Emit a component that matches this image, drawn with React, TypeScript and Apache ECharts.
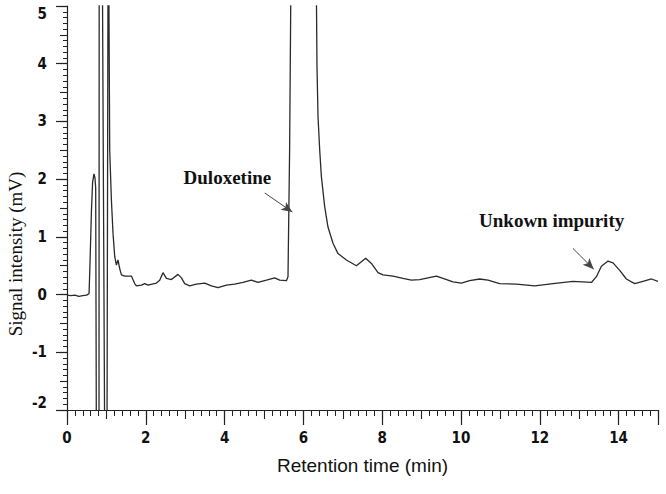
import React, { useEffect, useRef } from "react";
import * as echarts from "echarts";

// Retention time (min) and signal (mV)
const retentionTime = [
  0.0, 0.1, 0.2, 0.3, 0.4, 0.5, 0.56, 0.58, 0.62, 0.65, 0.685, 0.71, 0.728,
  0.746, 0.812, 0.817, 0.898, 0.957, 1.015, 1.041, 1.06, 1.084, 1.127, 1.168,
  1.211, 1.254, 1.294, 1.338, 1.381, 1.464, 1.635, 1.718, 1.761, 1.888, 1.972,
  2.056, 2.269, 2.353, 2.437, 2.523, 2.65, 2.817, 2.904, 2.987, 3.114, 3.284,
  3.495, 3.665, 3.832, 4.046, 4.256, 4.467, 4.68, 4.848, 5.061, 5.272, 5.398,
  5.569, 5.609, 5.65, 5.685, 6.0, 6.325, 6.345, 6.371, 6.414, 6.457, 6.541,
  6.624, 6.751, 6.878, 7.091, 7.345, 7.581, 7.726, 7.893, 8.02, 8.274, 8.528,
  8.741, 8.952, 9.162, 9.376, 9.543, 9.797, 10.01, 10.22, 10.475, 10.685,
  10.98, 11.406, 11.87, 12.335, 12.843, 13.31, 13.437, 13.563, 13.731, 13.858,
  14.028, 14.198, 14.409, 14.619, 14.833, 15.0,
];
const signalMv = [
  -0.01, -0.02, -0.01, -0.03, -0.02, -0.01, 0.02, 0.45, 1.45, 1.95, 2.09, 2.02,
  1.85, -2.6, -2.6, 5.6, 5.6, -2.6, -2.6, 5.6, 5.6, 2.5, 1.64, 1.06, 0.66, 0.51,
  0.6, 0.45, 0.34, 0.32, 0.32, 0.19, 0.15, 0.165, 0.19, 0.165, 0.2, 0.25, 0.38,
  0.28, 0.26, 0.35, 0.29, 0.19, 0.15, 0.18, 0.2, 0.15, 0.12, 0.165, 0.18, 0.21,
  0.25, 0.21, 0.25, 0.29, 0.25, 0.24, 0.31, 2.5, 5.6, 60, 5.6, 3.95, 3.08, 2.5,
  2.04, 1.52, 1.17, 0.89, 0.71, 0.6, 0.5, 0.63, 0.54, 0.38, 0.34, 0.32, 0.28,
  0.25, 0.26, 0.29, 0.32, 0.28, 0.22, 0.2, 0.24, 0.27, 0.25, 0.19, 0.18, 0.15,
  0.19, 0.23, 0.21, 0.31, 0.49, 0.58, 0.55, 0.42, 0.27, 0.19, 0.23, 0.27, 0.23,
];

const labelTexts = ["Duloxetine", "Unkown impurity"];
const labelCoords = [
  [4.07, 2.03],
  [12.3, 1.29],
];
const arrowStarts = [
  [5.02, 1.76],
  [12.84, 0.8],
];
const arrowEnds = [
  [5.72, 1.43],
  [13.37, 0.44],
];

const xAxisTitle = "Retention time (min)";
const yAxisTitle = "Signal intensity (mV)";

export default function App() {
  const ref = useRef<HTMLDivElement>(null);

  useEffect(() => {
    if (!ref.current) return;
    const chart = echarts.init(ref.current, undefined, { renderer: "svg" });
    const data = retentionTime.map((t, i) => [t, signalMv[i]]);
    const tickFont = {
      fontFamily: "'Liberation Sans Narrow', 'DejaVu Sans Condensed', 'Arial Narrow', 'Liberation Sans', sans-serif",
      fontWeight: "bold" as const,
      fontSize: 15,
      color: "#111",
    };
    const axisCol = "#222";
    chart.setOption({
      animation: false,
      backgroundColor: "#fff",
      grid: { left: 67, right: 8, top: 6, bottom: 84, containLabel: false },
      xAxis: [
        {
          type: "value",
          min: 0,
          max: 15,
          interval: 2,
          name: xAxisTitle,
          nameLocation: "middle",
          nameGap: 46,
          nameTextStyle: {
            fontFamily: "'Liberation Sans', Arial, sans-serif",
            fontSize: 19,
            color: "#111",
          },
          axisLine: { show: true, onZero: false, lineStyle: { color: axisCol, width: 1.2 } },
          axisTick: { show: true, length: 15, lineStyle: { color: axisCol, width: 1.2 } },
          minorTick: { show: true, splitNumber: 10, length: 6, lineStyle: { color: axisCol, width: 1 } },
          axisLabel: { ...tickFont, margin: 20, showMaxLabel: false },
          splitLine: { show: false },
          minorSplitLine: { show: false },
        },
        {
          type: "value",
          min: 0,
          max: 15,
          interval: 1,
          position: "bottom",
          axisLine: { show: false, onZero: false },
          axisTick: { show: true, length: 9, lineStyle: { color: axisCol, width: 1.1 } },
          axisLabel: { show: false },
          splitLine: { show: false },
        },
      ],
      yAxis: [
        {
          type: "value",
          min: -2,
          max: 5,
          interval: 1,
          axisLine: { show: true, onZero: false, lineStyle: { color: axisCol, width: 1.2 } },
          axisTick: { show: true, length: 11, lineStyle: { color: axisCol, width: 1.2 } },
          minorTick: { show: true, splitNumber: 10, length: 4, lineStyle: { color: axisCol, width: 1 } },
          axisLabel: {
            ...tickFont,
            margin: 20,
            verticalAlignMaxLabel: "top",
            verticalAlignMinLabel: "bottom",
          },
          splitLine: { show: false },
          minorSplitLine: { show: false },
        },
        {
          type: "value",
          min: -2,
          max: 5,
          interval: 0.5,
          position: "left",
          axisLine: { show: false, onZero: false },
          axisTick: { show: true, length: 7, lineStyle: { color: axisCol, width: 1.1 } },
          axisLabel: { show: false },
          splitLine: { show: false },
        },
      ],
      graphic: [
        {
          type: "text",
          x: 15,
          y: 254,
          rotation: Math.PI / 2,
          style: {
            text: yAxisTitle,
            font: "19px 'Liberation Serif', 'Times New Roman', serif",
            fill: "#111",
            textAlign: "center",
            textVerticalAlign: "middle",
          },
        },
      ],
      series: [
        {
          type: "line",
          data,
          xAxisIndex: 0,
          yAxisIndex: 0,
          showSymbol: false,
          symbol: "none",
          clip: true,
          lineStyle: { color: "#2a2a2a", width: 1.3 },
          markLine: {
            silent: true,
            symbol: ["none", "arrow"],
            symbolSize: [7, 11],
            label: { show: false },
            lineStyle: { color: "#444", width: 1, type: "solid" },
            data: arrowStarts.map((s, i) => [{ coord: s }, { coord: arrowEnds[i] }]),
          },
          markPoint: {
            silent: true,
            symbol: "circle",
            symbolSize: 0,
            label: {
              show: true,
              position: "inside",
              fontFamily: "'Liberation Serif', 'Times New Roman', serif",
              fontWeight: "bold",
              fontSize: 19,
              color: "#111",
              formatter: (p: any) => p.name,
            },
            data: labelTexts.map((txt, i) => ({ name: txt, coord: labelCoords[i] })),
          },
        },
      ],
    });
    return () => chart.dispose();
  }, []);

  return (
    <div
      ref={ref}
      style={{ position: "absolute", left: 0, top: 0, width: 666, height: 494 }}
    />
  );
}
